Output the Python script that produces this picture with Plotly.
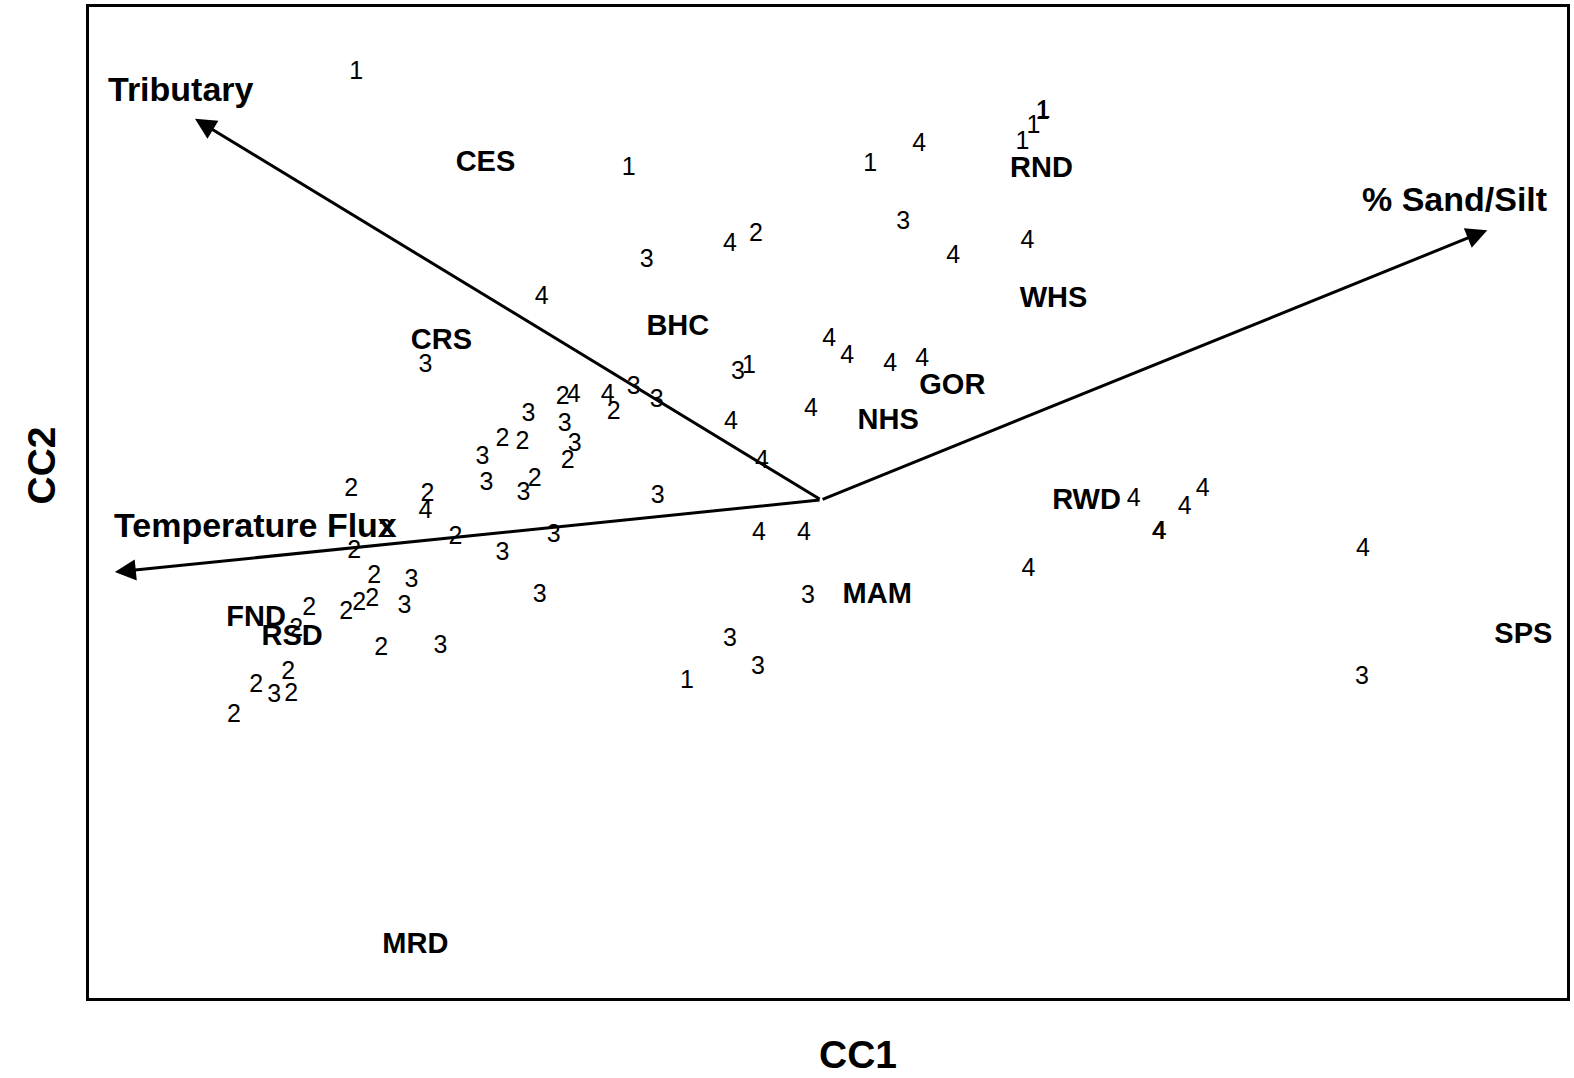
import plotly.graph_objects as go

# Site scores (group number labels)
site_groups = ["1","1","1","4","1","1","1","1","3","4","2","3","4","4","4","3",
               "4","4","4","4","3","1","2","4","4","2","3","3","3","3","2","2",
               "3","2","3","3","2","3","2","2","4","3","4","4","4","2","2","2",
               "3","3","2","3","2","2","2","3","2","2","2","3","2","2","3","2",
               "2","3","4","4","3","3","3","1","4","4","4","4","4","4","4","3"]
site_cc1 = [-4.64,-1.92,0.49,0.98,2.01,2.12,2.21,2.22,0.82,-0.91,-0.65,-1.74,1.32,2.06,-2.79,-3.95,
            0.08,0.26,0.69,1.01,-0.83,-0.72,-2.58,-2.47,-2.13,-2.07,-1.87,-1.64,-2.92,-2.56,-3.18,-2.98,
            -2.46,-2.53,-3.38,-3.34,-2.86,-2.97,-4.69,-3.93,-3.95,-1.63,-0.90,-0.10,-0.59,-4.35,-3.65,-4.66,
            -3.18,-2.67,-4.46,-4.09,-4.48,-4.61,-4.74,-4.16,-5.11,-5.24,-4.39,-3.80,-5.32,-5.64,-5.46,-5.29,
            -5.86,-2.81,-0.62,-0.17,-0.13,-0.91,-0.63,-1.34,3.12,3.37,3.38,3.63,3.81,2.07,5.41,5.40]
site_cc2 = [4.26,3.30,3.34,3.54,3.56,3.72,3.86,3.87,2.76,2.54,2.64,2.38,2.42,2.57,2.02,1.34,
            1.60,1.43,1.35,1.40,1.27,1.33,1.02,1.04,1.04,0.87,1.12,0.99,0.85,0.75,0.60,0.57,
            0.55,0.38,0.42,0.16,0.20,0.06,0.10,0.05,-0.12,0.03,0.77,0.90,0.38,-0.31,-0.38,-0.52,
            -0.54,-0.36,-0.77,-0.81,-1.00,-1.04,-1.13,-1.07,-1.09,-1.29,-1.48,-1.46,-1.72,-1.85,-1.95,-1.94,
            -2.15,-0.96,-0.34,-0.34,-0.97,-1.39,-1.67,-1.81,0.00,-0.33,-0.33,-0.08,0.10,-0.70,-0.50,-1.77]

# Species scores
species = ["CES","RND","WHS","BHC","CRS","GOR","NHS","RWD","MAM","FND","RSD","SPS","MRD"]
species_cc1 = [-3.35,2.20,2.32,-1.43,-3.79,1.31,0.67,2.65,0.56,-5.64,-5.28,7.01,-4.05]
species_cc2 = [3.35,3.29,2.00,1.72,1.58,1.13,0.78,-0.02,-0.96,-1.19,-1.37,-1.35,-4.45]

# Environmental vectors
env_names = ["Tributary","% Sand/Silt","Temperature Flux"]
env_cc1 = [-6.25, 6.65, -7.05]
env_cc2 = [3.80, 2.69, -0.72]
env_label_cc1 = [-6.39, 6.32, -5.65]
env_label_cc2 = [4.10, 3.00, -0.25]

FONT = "Liberation Sans, Arial, sans-serif"

fig = go.Figure()
fig.add_trace(go.Scatter(
    x=site_cc1, y=site_cc2, mode="text", text=site_groups,
    textposition="middle center",
    textfont=dict(family=FONT, size=25, color="black"),
    hoverinfo="skip", showlegend=False, cliponaxis=False))
fig.add_trace(go.Scatter(
    x=species_cc1, y=species_cc2, mode="text",
    text=["<b>%s</b>" % s for s in species],
    textposition="middle center",
    textfont=dict(family=FONT, size=29, color="black"),
    hoverinfo="skip", showlegend=False, cliponaxis=False))

annotations = []
for name, x, y, lx, ly in zip(env_names, env_cc1, env_cc2, env_label_cc1, env_label_cc2):
    annotations.append(dict(
        x=x, y=y, ax=0, ay=0, xref="x", yref="y", axref="x", ayref="y",
        text="", showarrow=True, arrowhead=2, arrowsize=1.4, arrowwidth=3,
        arrowcolor="black"))
    annotations.append(dict(
        x=lx, y=ly, xref="x", yref="y", text="<b>%s</b>" % name, showarrow=False,
        font=dict(family=FONT, size=34, color="black"),
        xanchor="center", yanchor="middle"))

annotations.append(dict(
    x=0.520, y=-0.057, xref="paper", yref="paper", text="<b>CC1</b>", showarrow=False,
    font=dict(family=FONT, size=39, color="black"), xanchor="center", yanchor="middle"))
annotations.append(dict(
    x=-0.032, y=0.537, xref="paper", yref="paper", text="<b>CC2</b>", showarrow=False,
    textangle=-90,
    font=dict(family=FONT, size=39, color="black"), xanchor="center", yanchor="middle"))

fig.update_layout(
    width=1574, height=1078,
    margin=dict(l=89, r=4, t=5, b=80),
    paper_bgcolor="white", plot_bgcolor="white",
    annotations=annotations,
    xaxis=dict(range=[-7.308, 7.446], showgrid=False, zeroline=False, showticklabels=False,
               ticks="", showline=True, linecolor="black", linewidth=3, mirror=True),
    yaxis=dict(range=[-4.967, 4.915], showgrid=False, zeroline=False, showticklabels=False,
               ticks="", showline=True, linecolor="black", linewidth=3, mirror=True),
)

fig.write_html("out.html")
